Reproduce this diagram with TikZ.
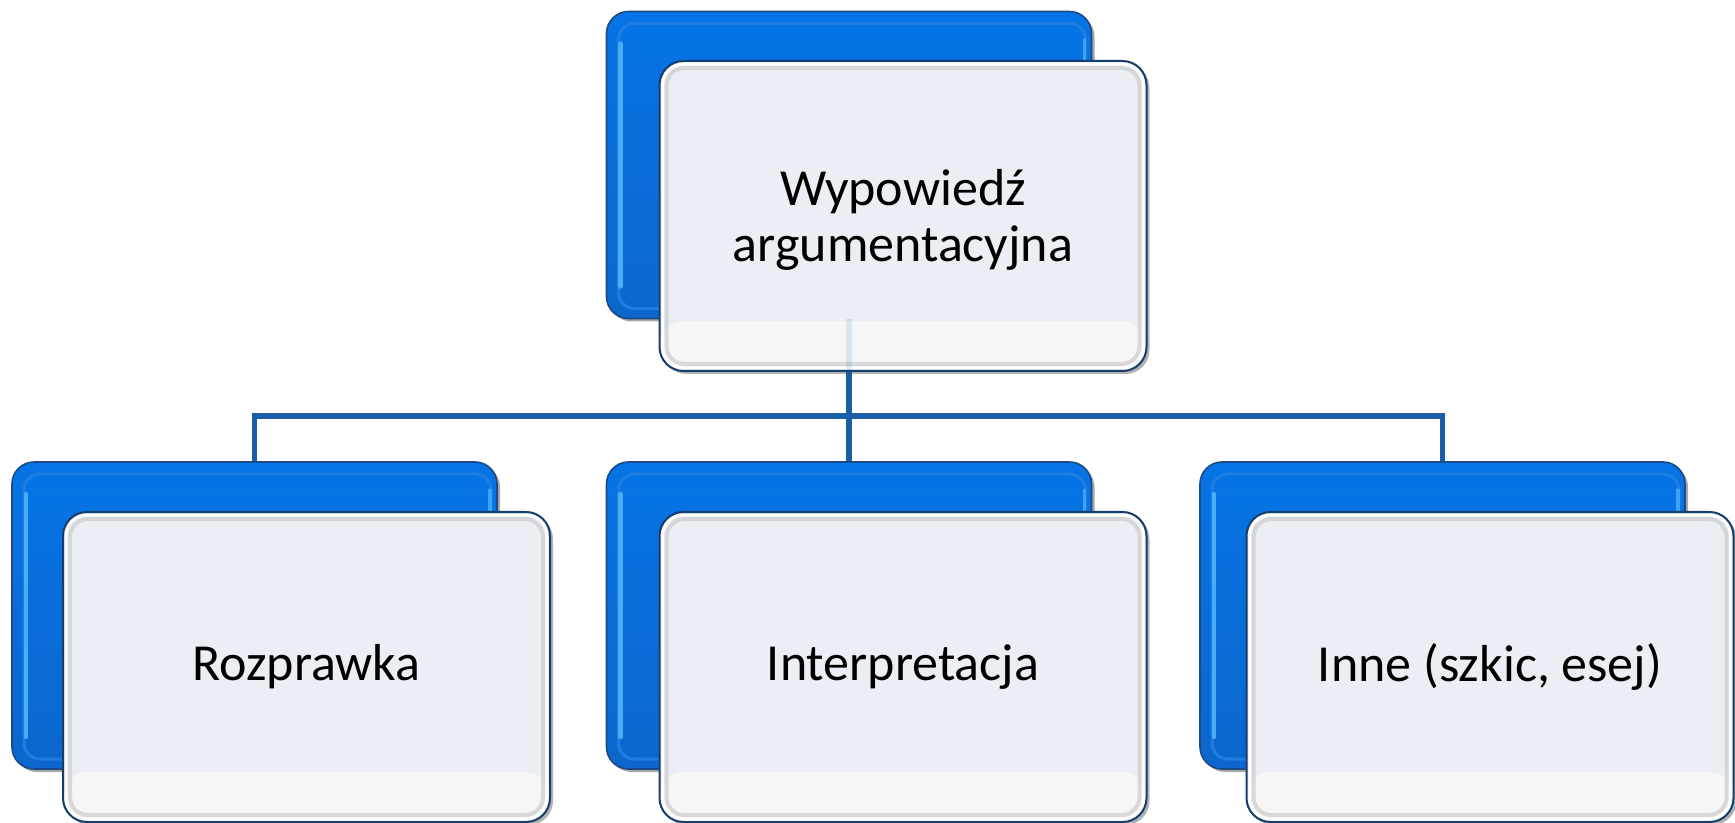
\documentclass[tikz,border=0pt]{standalone}
\usepackage{fontspec}
\setmainfont{Carlito}
\usetikzlibrary{shadows,calc}
\definecolor{bluetop}{HTML}{0674E6}
\definecolor{bluebot}{HTML}{0C66CC}
\definecolor{blueedge}{HTML}{1B4A84}
\definecolor{blueglow}{HTML}{4AAEF6}
\definecolor{bluering}{HTML}{1E7EE0}
\definecolor{frontfill}{HTML}{EBEEF4}
\definecolor{frontband}{HTML}{F6F6F7}
\definecolor{frontedge}{HTML}{163E6C}
\definecolor{conncol}{HTML}{1A5DA8}
\tikzset{
  backbox/.style={rectangle, rounded corners=11pt, minimum width=242.5pt,
    minimum height=153.5pt, inner sep=0pt, draw=blueedge, line width=0.8pt,
    top color=bluetop, bottom color=bluebot,
    drop shadow={shadow xshift=1.5pt, shadow yshift=-1.5pt, opacity=0.35, fill=black},
    path picture={
      \draw[bluering, line width=1.5pt, rounded corners=8pt]
        ([shift={(6pt,5pt)}]path picture bounding box.south west) rectangle
        ([shift={(-3pt,-6pt)}]path picture bounding box.north east);
      \draw[blueglow, line width=2.2pt, line cap=round]
        ([shift={(7pt,16pt)}]path picture bounding box.south west) --
        ([shift={(7pt,-16pt)}]path picture bounding box.north west);
      \draw[blueglow!80!bluetop, line width=1.6pt, line cap=round]
        ([shift={(-3.5pt,16pt)}]path picture bounding box.south east) --
        ([shift={(-3.5pt,-14pt)}]path picture bounding box.north east);
    }},
  frontbox/.style={rectangle, rounded corners=12pt, minimum width=243.5pt,
    minimum height=155pt, inner sep=0pt, draw=frontedge, line width=1pt,
    fill=frontfill, text=black, align=center,
    font=\fontsize{26}{28}\selectfont,
    drop shadow={shadow xshift=1.5pt, shadow yshift=-1.5pt, opacity=0.3, fill=black},
    path picture={
      \fill[frontband] (path picture bounding box.south west) rectangle
        ([yshift=25pt]path picture bounding box.south east);
      \draw[black!18, line width=2pt, rounded corners=9pt, opacity=0.8]
        ([shift={(3.5pt,3.5pt)}]path picture bounding box.south west) rectangle
        ([shift={(-3.5pt,-3.5pt)}]path picture bounding box.north east);
      \draw[white, line width=1.2pt, rounded corners=10pt]
        ([shift={(1.6pt,1.6pt)}]path picture bounding box.south west) rectangle
        ([shift={(-1.6pt,-1.6pt)}]path picture bounding box.north east);
    }},
  conn/.style={draw=conncol, line width=2.6pt}
}
\begin{document}
\begin{tikzpicture}[x=0.5pt,y=-0.5pt]
\useasboundingbox (0,0) rectangle (1735,823);
% top
\node[backbox] (topB) at (849,165) {};
\node[frontbox, text height=52pt, text depth=6pt] (topW) at (903,216) {Wypowiedź\\argumentacyjna};
% bottom row back boxes
\node[backbox] (b1B) at (254.5,615.5) {};
\node[backbox] (b2B) at (849,615.5) {};
\node[backbox] (b3B) at (1442.5,615.5) {};
% connectors
\coordinate (hub) at (849,416);
\draw[conn, opacity=0.12] (topB.south) -- (topB.south |- topW.south);
\draw[conn] (topB.south |- topW.south) -- (hub);
\draw[conn] (b1B.north) |- (hub) -| (b3B.north);
\draw[conn] (hub) -- (b2B.north);
% front boxes
\node[frontbox] (b1W) at (306.5,667) {Rozprawka};
\node[frontbox] (b2W) at (903,667) {Interpretacja};
\node[frontbox] (b3W) at (1490,667) {Inne (szkic, esej)};
\end{tikzpicture}
\end{document}
